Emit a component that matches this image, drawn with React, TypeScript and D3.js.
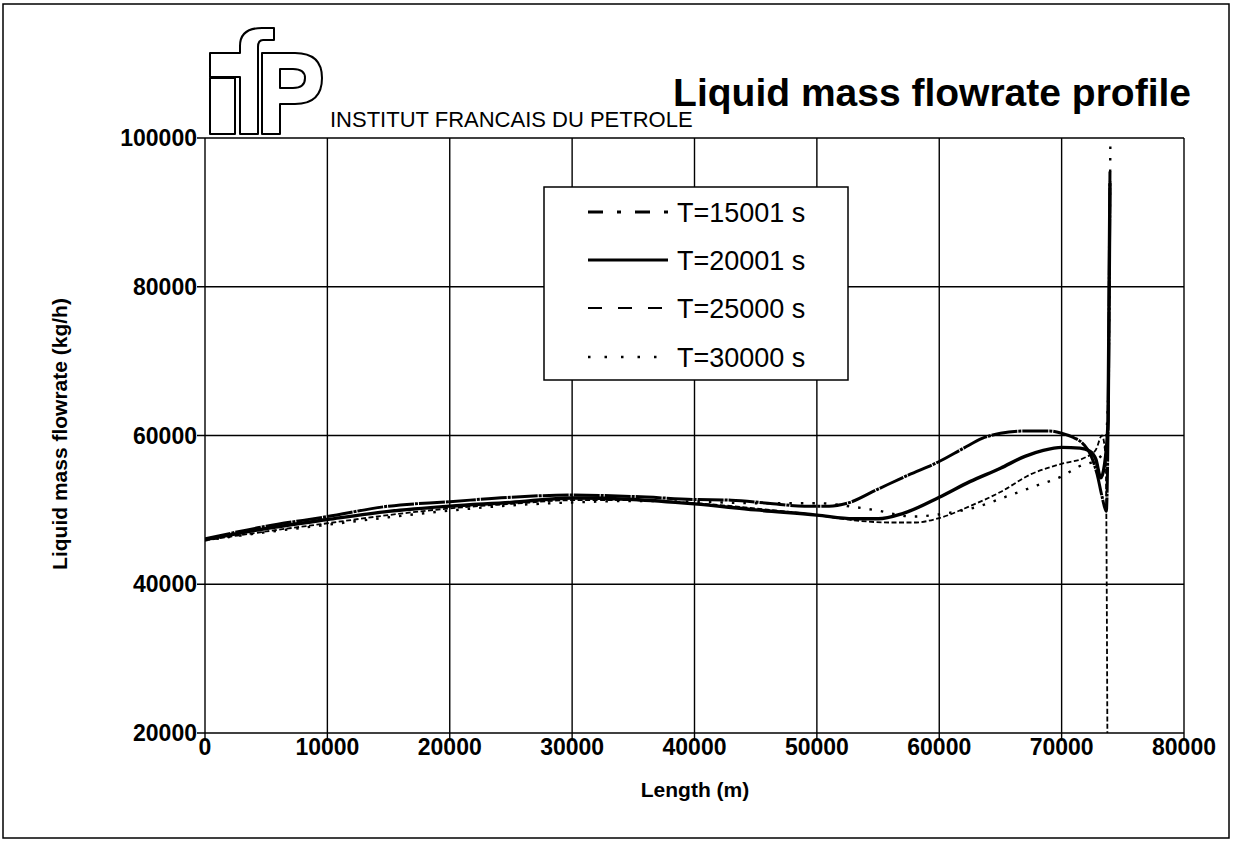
import React from "react";
import * as d3 from "d3";

const xTicks = [0, 10000, 20000, 30000, 40000, 50000, 60000, 70000, 80000];
const yTicks = [20000, 40000, 60000, 80000, 100000];

const legendLabels = ["T=15001 s", "T=20001 s", "T=25000 s", "T=30000 s"];

// [length (m), liquid mass flowrate (kg/h)]
const seriesT15001: [number, number][] = [
  [0, 46100], [5000, 47800], [10000, 49100], [15000, 50500], [20000, 51100],
  [25000, 51700], [30000, 52000], [35000, 51800], [40000, 51400], [43000, 51300],
  [46000, 50900], [49000, 50500], [51000, 50500], [52500, 50900], [55000, 52800],
  [57500, 54700], [60000, 56500], [62000, 58300], [63500, 59600], [65000, 60300],
  [67000, 60600], [69000, 60600], [70000, 60300], [71000, 59700], [71800, 58800],
  [72400, 57300], [72900, 54800], [73300, 51800], [73650, 49800], [73800, 62000],
  [73950, 95500],
];
const seriesT20001: [number, number][] = [
  [0, 46000], [5000, 47500], [10000, 48700], [15000, 49800], [20000, 50500],
  [25000, 51000], [30000, 51600], [35000, 51400], [40000, 50800], [45000, 50000],
  [50000, 49300], [53000, 48800], [55000, 48800], [57000, 49500], [60000, 51700],
  [62500, 53800], [65000, 55600], [67000, 57200], [68500, 58000], [70000, 58400],
  [71500, 58300], [72300, 57900], [72800, 56800], [73200, 54300], [73500, 56000],
  [73800, 62000], [73950, 94000],
];
const seriesT25000: [number, number][] = [
  [0, 45900], [5000, 47100], [10000, 48200], [15000, 49300], [20000, 50200],
  [25000, 50800], [30000, 51300], [35000, 51300], [40000, 50900], [45000, 50200],
  [50000, 49300], [53000, 48600], [56000, 48300], [58000, 48300], [60000, 48900],
  [62500, 50500], [65000, 52400], [67500, 54800], [70000, 56200], [72000, 57100],
  [72800, 58100], [73300, 60000], [73600, 57000], [73750, 15000],
];
const seriesT30000: [number, number][] = [
  [0, 45900], [5000, 47000], [10000, 48000], [15000, 49000], [20000, 49900],
  [25000, 50600], [30000, 51000], [35000, 51200], [40000, 51100], [45000, 50900],
  [50000, 50900], [53000, 50400], [55000, 49900], [57800, 49100], [60000, 49400],
  [63300, 50500], [65500, 51800], [68000, 53300], [70000, 54500], [71500, 55900],
  [72900, 56800], [73500, 58000], [73800, 65000], [73980, 99000],
];

const allSeries = [seriesT15001, seriesT20001, seriesT25000, seriesT30000];

const plotStyles = [
  { width: 3, dash: "26,1,3,1" },
  { width: 3.4, dash: "none" },
  { width: 1.8, dash: "5,2.5" },
  { width: 2.4, dash: "2.5,9" },
];
const legendStyles = [
  { width: 3, dash: "15,14,4,14" },
  { width: 3, dash: "none" },
  { width: 2, dash: "14,16" },
  { width: 2.5, dash: "2.5,14" },
];

const FONT = "'Liberation Sans', Arial, Helvetica, sans-serif";

export default function App() {
  const left = 205, right = 1184, top = 138, bottom = 733;
  const x = d3.scaleLinear().domain([0, 80000]).range([left, right]);
  const y = d3.scaleLinear().domain([20000, 100000]).range([bottom, top]);
  const line = d3
    .line<[number, number]>()
    .x((d) => x(d[0]))
    .y((d) => y(d[1]))
    .curve(d3.curveMonotoneX);

  const legendX = 544, legendY = 187;
  const rowY = [212, 260, 308, 357];

  return (
    <svg
      width={1235}
      height={841}
      style={{ position: "absolute", left: 0, top: 0, background: "#fff" }}
      fontFamily={FONT}
    >
      <defs>
        <clipPath id="plotClip">
          <rect x={left} y={top - 10} width={right - left} height={bottom - top + 10} />
        </clipPath>
      </defs>
      {/* outer frame */}
      <rect x={3} y={4} width={1226} height={834} fill="none" stroke="#000" strokeWidth={1.5} />

      {/* logo */}
      <g fill="#fff" stroke="#000" strokeWidth={2} strokeLinejoin="round">
        <path d="M210,134 V78 H235 V134 Z" />
        <path d="M210,53 H240 V46 Q240,28 262,28 H274 V40 H263 Q258,40 258,47 V134 H240 V77 H210 Z" />
        <path
          fillRule="evenodd"
          d="M262,134 V53 H295 Q322,53 322,78 Q322,104 295,104 H280 V134 Z M280,69 H293 Q305,69 305,78 Q305,88 293,88 H280 Z"
        />
      </g>
      <text x={330} y={127} fontSize={22} fill="#000">
        INSTITUT FRANCAIS DU PETROLE
      </text>
      <text x={1191} y={106} fontSize={39} fontWeight="bold" textAnchor="end" fill="#000">
        Liquid mass flowrate profile
      </text>

      {/* grid */}
      <g stroke="#000" strokeWidth={1.4}>
        {xTicks.map((t) => (
          <line key={"gx" + t} x1={x(t)} x2={x(t)} y1={top} y2={bottom + 8} />
        ))}
        {yTicks.map((t) => (
          <line key={"gy" + t} x1={left - 8} x2={right} y1={y(t)} y2={y(t)} />
        ))}
      </g>

      {/* tick labels */}
      <g fontSize={23} fontWeight="bold" fill="#000">
        {xTicks.map((t) => (
          <text key={"tx" + t} x={x(t)} y={755} textAnchor="middle">
            {t}
          </text>
        ))}
        {yTicks.map((t) => (
          <text key={"ty" + t} x={197} y={y(t) + 8} textAnchor="end">
            {t}
          </text>
        ))}
      </g>
      <text x={695} y={797} fontSize={21} fontWeight="bold" textAnchor="middle">
        Length (m)
      </text>
      <text
        transform="translate(67,434) rotate(-90)"
        fontSize={21}
        fontWeight="bold"
        textAnchor="middle"
      >
        Liquid mass flowrate (kg/h)
      </text>

      {/* series */}
      <g clipPath="url(#plotClip)" fill="none" stroke="#000">
        {allSeries.map((s, i) => (
          <path
            key={"s" + i}
            d={line(s) || ""}
            strokeWidth={plotStyles[i].width}
            strokeDasharray={plotStyles[i].dash}
            strokeLinejoin="round"
          />
        ))}
      </g>

      {/* legend */}
      <rect x={legendX} y={legendY} width={304} height={193} fill="#fff" stroke="#000" strokeWidth={1.5} />
      {legendLabels.map((lab, i) => (
        <g key={"lg" + i}>
          <line
            x1={588}
            x2={668}
            y1={rowY[i]}
            y2={rowY[i]}
            stroke="#000"
            strokeWidth={legendStyles[i].width}
            strokeDasharray={legendStyles[i].dash}
          />
          <text x={677} y={rowY[i] + 10} fontSize={27} fill="#000">
            {lab}
          </text>
        </g>
      ))}
    </svg>
  );
}
